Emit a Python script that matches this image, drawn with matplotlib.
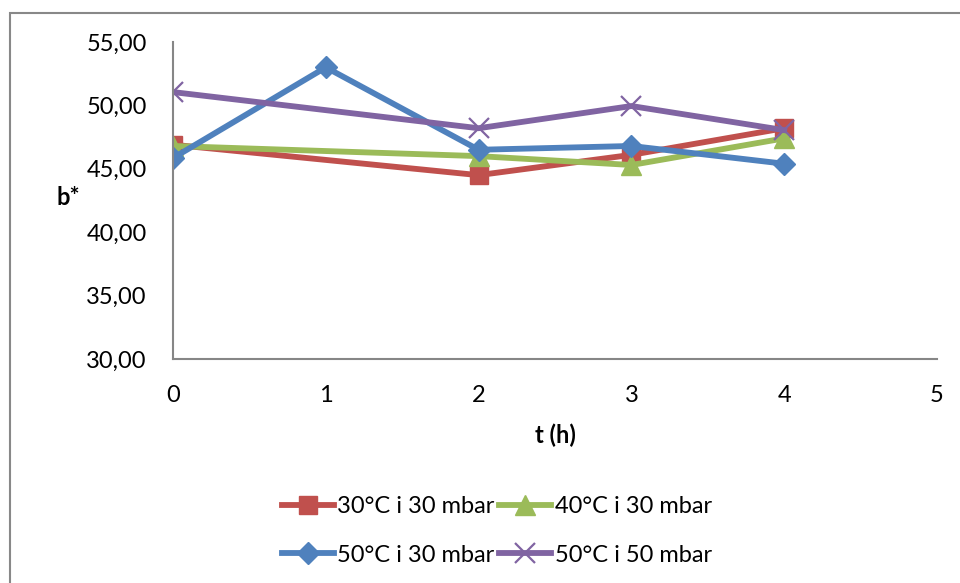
import matplotlib
matplotlib.use("Agg")
import matplotlib.pyplot as plt
from matplotlib.patches import Rectangle
from matplotlib.ticker import FuncFormatter

plt.rcParams['font.family'] = ['Lato', 'DejaVu Sans']

labels = ["30°C i 30 mbar", "40°C i 30 mbar", "50°C i 30 mbar", "50°C i 50 mbar"]
x_red = [0, 2, 3, 4]
y_red = [46.9, 44.5, 46.1, 48.2]
x_green = [0, 2, 3, 4]
y_green = [46.8, 46.0, 45.3, 47.4]
x_blue = [0, 1, 2, 3, 4]
y_blue = [45.85, 53.0, 46.5, 46.8, 45.4]
x_purple = [0, 2, 3, 4]
y_purple = [51.05, 48.2, 49.95, 48.05]

fig = plt.figure(figsize=(9.6, 5.83), dpi=100)
ax = fig.add_axes([173/960, 1-359/583, (937-173)/960, (359-42)/583])

lw = 4.2
h_red, = ax.plot(x_red, y_red, color='#C0504D', lw=lw, marker='s', ms=13, label=labels[0], solid_joinstyle='round')
h_green, = ax.plot(x_green, y_green, color='#9BBB59', lw=lw, marker='^', ms=14, label=labels[1], solid_joinstyle='round')
h_blue, = ax.plot(x_blue, y_blue, color='#4F81BD', lw=lw, marker='D', ms=11, label=labels[2], solid_joinstyle='round')
h_purple, = ax.plot(x_purple, y_purple, color='#8064A2', lw=lw, marker='x', ms=14, mew=1.6, label=labels[3], solid_joinstyle='round')

ax.set_xlim(0, 5)
ax.set_ylim(30, 55)
ax.set_xticks([0, 1, 2, 3, 4, 5])
ax.set_yticks([30, 35, 40, 45, 50, 55])
ax.yaxis.set_major_formatter(FuncFormatter(lambda v, p: f"{v:.2f}".replace('.', ',')))
ax.tick_params(length=0, labelsize=17, pad=19)
for s in ['top', 'right']:
    ax.spines[s].set_visible(False)
for s in ['left', 'bottom']:
    ax.spines[s].set_color('#868686')
    ax.spines[s].set_linewidth(1.5)

fig.text(555/960, 1-435/583, "t (h)", ha='center', va='center', fontsize=17, fontweight='bold')
fig.text(68/960, 1-198/583, "b*", ha='center', va='center', fontsize=17, fontweight='bold')

handles = [h_red, h_blue, h_green, h_purple]
leg = fig.legend(handles, [h.get_label() for h in handles], loc='center',
                 bbox_to_anchor=(497/960, 1-531/583), ncol=2, frameon=False,
                 fontsize=17, handlelength=2.2, handletextpad=0.15, columnspacing=0.2,
                 labelspacing=1.15)

fig.patches.append(Rectangle((9.5/960, -0.1), 1.2, 1-13/583+0.1, transform=fig.transFigure,
                             fill=False, edgecolor='#888888', lw=1.5, clip_on=False))

fig.savefig("out.png", dpi=100)
